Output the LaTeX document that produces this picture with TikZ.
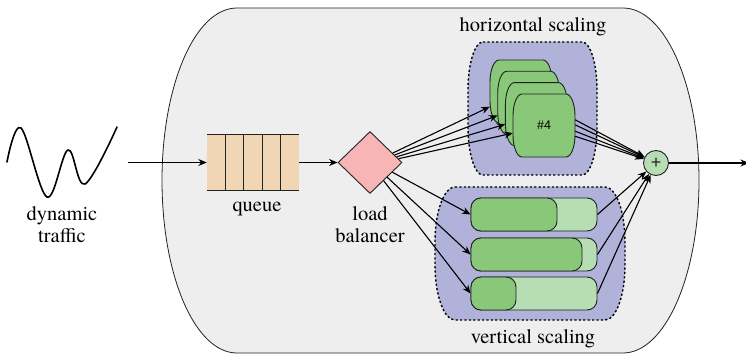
\documentclass[tikz,border=0pt]{standalone}
\usepackage{fontspec}
\setmainfont{texgyretermes-regular.otf}
\newfontfamily\labelserif{texgyretermes-regular.otf}
\newfontfamily\labelsans{Liberation Sans}
\usetikzlibrary{arrows.meta,calc,shapes.geometric}

\definecolor{shellfill}{HTML}{EEEEEE}
\definecolor{queuefill}{HTML}{F0D6B5}
\definecolor{lbfill}{HTML}{F7B5B5}
\definecolor{groupfill}{HTML}{B0B2DA}
\definecolor{srvgreen}{HTML}{88C878}
\definecolor{palegreen}{HTML}{B6DDB4}
\definecolor{edgegray}{HTML}{222222}

% rectangle with elliptical corners: x0, y0, x1, y1, rx, ry
\newcommand\ovalbox[6]{%
  ({#1+#5},#2) -- ({#3-#5},#2)
  .. controls ({#3-0.448*#5},#2) and (#3,{#2+0.448*#6}) .. (#3,{#2+#6})
  -- (#3,{#4-#6})
  .. controls (#3,{#4-0.448*#6}) and ({#3-0.448*#5},#4) .. ({#3-#5},#4)
  -- ({#1+#5},#4)
  .. controls ({#1+0.448*#5},#4) and (#1,{#4-0.448*#6}) .. (#1,{#4-#6})
  -- (#1,{#2+#6})
  .. controls (#1,{#2+0.448*#6}) and ({#1+0.448*#5},#2) .. cycle}

\begin{document}
\begin{tikzpicture}[x=1pt,y=-1pt,
  lbl/.style={font=\labelserif\fontsize{20.5}{22}\selectfont, align=center, inner sep=0pt},
  conn/.style={draw=black, line width=1.1pt, -{Stealth[length=8.5pt,width=7pt]}},
  shell/.style={fill=shellfill, draw=edgegray, line width=0.8pt},
  group/.style={fill=groupfill, draw=black, line width=1.4pt, dash pattern=on 2.2pt off 2.2pt},
  card/.style={fill=srvgreen, draw=edgegray, line width=0.9pt},
  cardspot/.style={draw=none, inner sep=0pt, minimum width=62pt, minimum height=63pt},
  bar/.style={fill=palegreen, draw=edgegray, line width=0.9pt, rounded corners=10pt,
    minimum height=33pt, inner sep=0pt},
  barfill/.style={fill=srvgreen, draw=edgegray, line width=0.9pt, rounded corners=10pt,
    minimum height=33pt, inner sep=0pt},
]
\useasboundingbox (0,0) rectangle (746,355);

% service boundary
\path[shell] (237,8) -- (623,8)
  .. controls (665,8) and (699,85.2) .. (699,180.5)
  .. controls (699,275.8) and (665,353) .. (623,353)
  -- (237,353)
  .. controls (195,353) and (162,275.8) .. (162,180.5)
  .. controls (162,85.2) and (195,8) .. cycle;

% incoming traffic wave
\draw[line width=1.6pt, line cap=round] plot[smooth, tension=0.6]
  coordinates {(7,162) (21,128) (47,197) (68,150) (85,184) (117,127)};
\node[lbl] (traffic) at (62,224.5) {dynamic\\traffic};
\coordinate (src) at (128,162.5);

% queue
\node[fill=queuefill, draw=none, minimum width=92pt, minimum height=56pt, inner sep=0pt]
  (queue) at (253,162.5) {};
\draw[edgegray, line width=0.9pt] (queue.north west) -- (queue.north east)
  (queue.south west) -- (queue.south east);
\foreach \f in {0.2,0.4,0.6,0.8}
  \draw[edgegray, line width=0.9pt] ($(queue.north west)!\f!(queue.north east)$)
    -- ($(queue.south west)!\f!(queue.south east)$);
\node[lbl, anchor=base] (queuelbl) at (257,212) {queue};

% load balancer
\node[diamond, fill=lbfill, draw=edgegray, line width=0.9pt, inner sep=0pt,
  minimum width=64pt, minimum height=62pt] (lb) at (370,162.5) {};
\node[lbl] (lblbl) at (370,225) {load\\balancer};

% scaling groups
\path[group] \ovalbox{468}{42}{597}{175}{15}{48};
\path[group] \ovalbox{435}{187}{625}{320}{20}{55};
\node[lbl, anchor=base] (hlbl) at (533,31.5) {horizontal scaling};
\node[lbl, anchor=base] (vlbl) at (533,343) {vertical scaling};

% horizontally scaled replicas
\path[card] \ovalbox{490}{60}{552}{123}{9}{22};
\node[cardspot] (c1) at (521,91.5) {};
\path[card] \ovalbox{497.7}{71.3}{559.7}{134.3}{9}{22};
\node[cardspot] (c2) at (528.7,102.8) {};
\path[card] \ovalbox{505.4}{82.6}{567.4}{145.6}{9}{22};
\node[cardspot] (c3) at (536.4,114.1) {};
\path[card] \ovalbox{513}{94}{575}{157}{9}{22};
\node[cardspot, font=\labelsans\fontsize{12.5}{14}\selectfont] (c4) at (544,125.5) {\#4};

% vertically scaled instances
\node[bar, minimum width=126pt] (v1) at (534,214.5) {};
\node[barfill, minimum width=86pt, anchor=west] (v1in) at (v1.west) {};
\node[bar, minimum width=126pt] (v2) at (534,254.5) {};
\node[barfill, minimum width=111pt, anchor=west] (v2in) at (v2.west) {};
\node[bar, minimum width=126pt] (v3) at (534,293.5) {};
\node[barfill, minimum width=45pt, anchor=west] (v3in) at (v3.west) {};

% merge point and output
\node[circle, fill=palegreen, draw=edgegray, line width=0.9pt, minimum size=25pt,
  inner sep=0pt, font=\labelsans\fontsize{18}{18}\selectfont, text=edgegray] (plus) at (656,163) {+};
\coordinate (sink) at (749,163);

% connectors
\draw[conn] (src) -- (queue.west);
\draw[conn] (queue.east) -- (lb.west);

\draw[conn] ($(lb.east)!0.30!(lb.north)$) -- ($(c1.north west)!0.74!(c1.south west)$);
\draw[conn] ($(lb.east)!0.24!(lb.north)$) -- ($(c2.north west)!0.70!(c2.south west)$);
\draw[conn] ($(lb.east)!0.18!(lb.north)$) -- ($(c3.north west)!0.66!(c3.south west)$);
\draw[conn] ($(lb.east)!0.12!(lb.north)$) -- ($(c4.north west)!0.62!(c4.south west)$);

\draw[conn] ($(lb.east)!0.31!(lb.south)$) -- (v1.west);
\draw[conn] ($(lb.east)!0.47!(lb.south)$) -- (v2.west);
\draw[conn] ($(lb.east)!0.58!(lb.south)$) -- (v3.west);

\draw[conn] ($(c4.north east)!0.41!(c4.south east)$) -- (plus);
\draw[conn] ($(c4.north east)!0.49!(c4.south east)$) -- (plus);
\draw[conn] ($(c4.north east)!0.59!(c4.south east)$) -- (plus);
\draw[conn] ($(c4.north east)!0.67!(c4.south east)$) -- (plus);

\draw[conn] (v1.east) -- (plus);
\draw[conn] (v2.east) -- (plus);
\draw[conn] (v3.east) -- (plus);

\draw[conn] (plus) -- (sink);
\end{tikzpicture}
\end{document}
